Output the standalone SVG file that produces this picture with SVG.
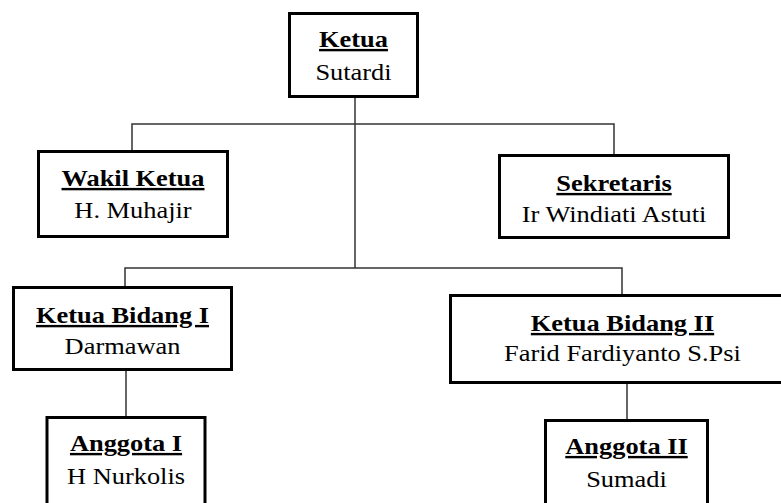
<svg xmlns="http://www.w3.org/2000/svg" width="781" height="503" viewBox="0 0 781 503">
<style>
.box{fill:#fff;stroke:#000;stroke-width:3}
.ln{stroke:#333;stroke-width:1.5;fill:none}
.lbl{font-family:'Liberation Serif','Times New Roman',serif;font-size:24px;fill:#000;text-anchor:middle}
.t{font-weight:bold;text-decoration:underline;text-decoration-thickness:2px}
</style>
<rect width="781" height="503" fill="#fff"/>
<g id="connectors">
<path class="ln" d="M355,98V268"/>
<path class="ln" d="M132,150V124H614V154"/>
<path class="ln" d="M125,286V268H622V294"/>
<path class="ln" d="M126,371V416"/>
<path class="ln" d="M627,384V419"/>
</g>
<g id="ketua" class="lbl">
<rect class="box" x="289.5" y="13.5" width="128" height="83"/>
<text class="t" transform="translate(353.5,47) scale(1.1,1)">Ketua</text>
<text transform="translate(353.5,80) scale(1.1,1)">Sutardi</text>
</g>
<g id="wakil-ketua" class="lbl">
<rect class="box" x="38.5" y="151.5" width="189" height="85"/>
<text class="t" transform="translate(133,186) scale(1.1,1)">Wakil Ketua</text>
<text transform="translate(133,218) scale(1.1,1)">H. Muhajir</text>
</g>
<g id="sekretaris" class="lbl">
<rect class="box" x="499.5" y="155.5" width="229" height="82"/>
<text class="t" transform="translate(614,191) scale(1.1,1)">Sekretaris</text>
<text transform="translate(614,222) scale(1.1,1)">Ir Windiati Astuti</text>
</g>
<g id="ketua-bidang-1" class="lbl">
<rect class="box" x="13.5" y="287.5" width="218" height="82"/>
<text class="t" transform="translate(122.5,323) scale(1.1,1)">Ketua Bidang I</text>
<text transform="translate(122.5,354) scale(1.1,1)">Darmawan</text>
</g>
<g id="ketua-bidang-2" class="lbl">
<rect class="box" x="450.5" y="295.5" width="344" height="87"/>
<text class="t" transform="translate(622.5,331) scale(1.1,1)">Ketua Bidang II</text>
<text transform="translate(622.5,361) scale(1.1,1)">Farid Fardiyanto S.Psi</text>
</g>
<g id="anggota-1" class="lbl">
<rect class="box" x="47" y="417.5" width="158" height="100"/>
<text class="t" transform="translate(126,451) scale(1.1,1)">Anggota I</text>
<text transform="translate(126,484) scale(1.1,1)">H Nurkolis</text>
</g>
<g id="anggota-2" class="lbl">
<rect class="box" x="545.5" y="420.5" width="162" height="100"/>
<text class="t" transform="translate(626.5,454) scale(1.1,1)">Anggota II</text>
<text transform="translate(626.5,487) scale(1.1,1)">Sumadi</text>
</g>
</svg>
